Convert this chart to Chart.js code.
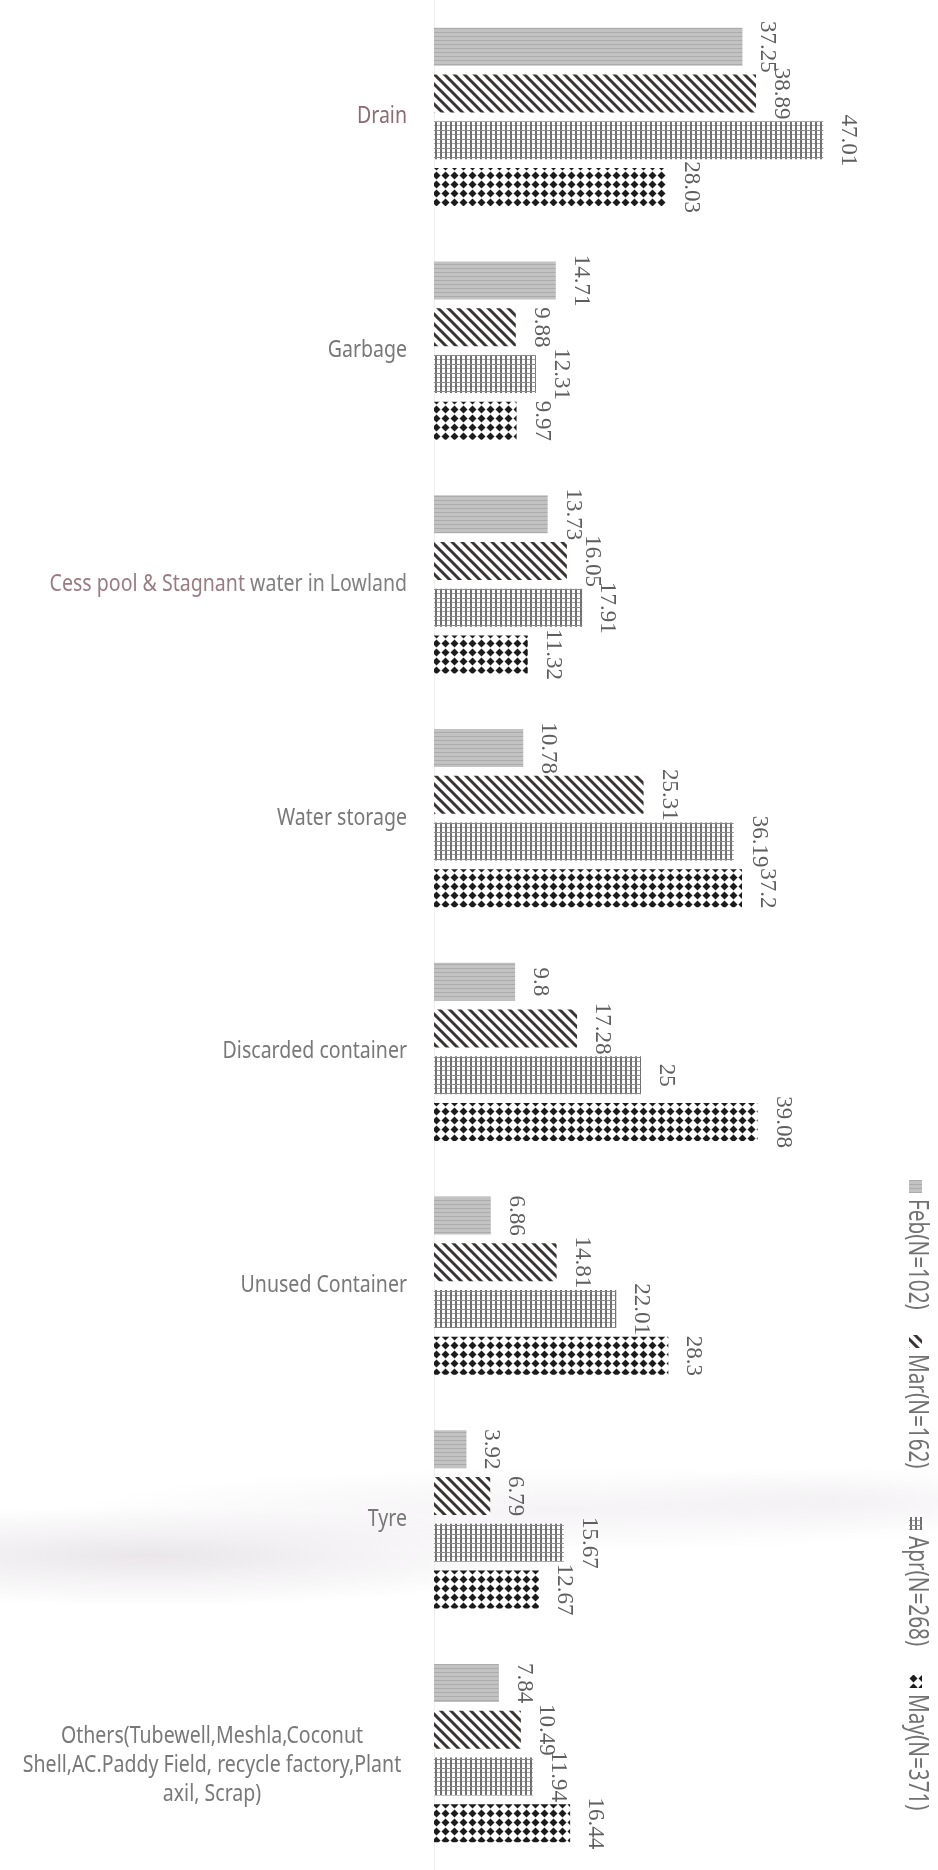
<!DOCTYPE html>
<html>
<head>
<meta charset="utf-8">
<script src="https://cdn.jsdelivr.net/npm/chart.js@4.4.1/dist/chart.umd.min.js"></script>
<style>
  html, body { margin:0; padding:0; }
  body {
    width:938px; height:1870px; overflow:hidden;
    /* faint scan smudge across the lower part of the page */
    background:
      radial-gradient(ellipse 420px 50px at 150px 1556px, rgba(200,190,200,.38), rgba(255,255,255,0)),
      radial-gradient(ellipse 480px 42px at 560px 1510px, rgba(222,214,222,.30), rgba(255,255,255,0)),
      radial-gradient(ellipse 240px 34px at 840px 1500px, rgba(225,218,225,.28), rgba(255,255,255,0)),
      #fff;
  }
  #wrap { position:relative; width:938px; height:1870px; }
</style>
</head>
<body>
<div id="wrap"><canvas id="c"></canvas></div>
<script>
// ---- data ----
const categories = [
  'Drain',
  'Garbage',
  'Cess pool & Stagnant water in Lowland',
  'Water storage',
  'Discarded container',
  'Unused Container',
  'Tyre',
  ['Others(Tubewell,Meshla,Coconut', 'Shell,AC.Paddy Field, recycle factory,Plant', 'axil, Scrap)']
];
const seriesNames = ['Feb(N=102)', 'Mar(N=162)', 'Apr(N=268)', 'May(N=371)'];
const febVals = [37.25, 14.71, 13.73, 10.78, 9.8, 6.86, 3.92, 7.84];
const marVals = [38.89, 9.88, 16.05, 25.31, 17.28, 14.81, 6.79, 10.49];
const aprVals = [47.01, 12.31, 17.91, 36.19, 25, 22.01, 15.67, 11.94];
const mayVals = [28.03, 9.97, 11.32, 37.2, 39.08, 28.3, 12.67, 16.44];

// ---- layout bits ----
const AXIS_LEFT  = 434;
const LEGEND_X   = 916;
const LEGEND_Y   = [1180, 1335, 1517, 1675];
const LABEL_FONT = '23px "Noto Sans"';
const VALUE_FONT = '23px "Liberation Serif"';
const SQUEEZE    = 0.85;   // narrow the sans text a bit, the original font is condensed

const cv  = document.getElementById('c');
const ctx = cv.getContext('2d');

function makePattern(w, h, draw) {
  const t = document.createElement('canvas');
  t.width = w; t.height = h;
  const g = t.getContext('2d');
  draw(g, w, h);
  return ctx.createPattern(t, 'repeat');
}

// Feb: light grey with fine horizontal lines
const patFeb = makePattern(4, 4, g => {
  g.fillStyle = '#c2c2c2'; g.fillRect(0, 0, 4, 4);
  g.fillStyle = '#ababab'; g.fillRect(0, 0, 4, 1);
});
// Mar: dark downward diagonal stripes
const patMar = makePattern(10, 10, g => {
  g.fillStyle = '#fff'; g.fillRect(0, 0, 10, 10);
  g.strokeStyle = '#3a3333'; g.lineWidth = 3;
  g.beginPath();
  g.moveTo(-2, -2); g.lineTo(12, 12);
  g.moveTo(-2, 8);  g.lineTo(2, 12);
  g.moveTo(8, -2);  g.lineTo(12, 2);
  g.stroke();
});
// Apr: grey brick / grid
const patApr = makePattern(5, 9, g => {
  g.fillStyle = '#fff'; g.fillRect(0, 0, 5, 9);
  g.fillStyle = '#707070'; g.fillRect(0, 0, 2, 9);
  g.fillStyle = '#8a8a8a'; g.fillRect(0, 4, 5, 1);
  g.fillStyle = '#a8a8a8'; g.fillRect(2, 8, 3, 1);
});
// May: black diamonds
const patMay = makePattern(9, 9, g => {
  g.fillStyle = '#fff'; g.fillRect(0, 0, 9, 9);
  g.fillStyle = '#1c1c1c';
  g.beginPath();
  g.moveTo(4.5, 0.5); g.lineTo(8.5, 4.5); g.lineTo(4.5, 8.5); g.lineTo(0.5, 4.5);
  g.closePath(); g.fill();
});

function squeezedText(c, txt, x, y) {
  c.save();
  c.translate(x, y);
  c.scale(SQUEEZE, 1);
  c.fillText(txt, 0, 0);
  c.restore();
}

// category labels drawn by hand: single lines right aligned, the long one centred
const catLabels = {
  id: 'catLabels',
  afterDraw(chart) {
    const y = chart.scales.y, c = chart.ctx;
    c.save();
    c.font = LABEL_FONT;
    c.textBaseline = 'middle';
    categories.forEach((lab, i) => {
      const py = y.getPixelForValue(i);
      const right = AXIS_LEFT - 27;
      if (Array.isArray(lab)) {
        c.fillStyle = '#787878';
        c.textAlign = 'center';
        const lh = 29, top = py - (lab.length - 1) * lh / 2 + 12;
        lab.forEach((ln, k) => squeezedText(c, ln, 212, top + k * lh));
      } else if (i === 2) {
        // first half of this one is printed in a reddish grey
        const a = 'Cess pool & Stagnant ', b = 'water in Lowland';
        c.textAlign = 'right';
        c.fillStyle = '#808080';
        squeezedText(c, b, right, py);
        c.fillStyle = '#9a7b82';
        squeezedText(c, a, right - c.measureText(b).width * SQUEEZE, py);
      } else {
        c.textAlign = 'right';
        c.fillStyle = i === 0 ? '#8c6c73' : '#787878';
        squeezedText(c, lab, right, py);
      }
    });
    c.restore();
  }
};

// value labels, rotated 90 degrees, just past the bar end
const valueLabels = {
  id: 'valueLabels',
  afterDatasetsDraw(chart) {
    const c = chart.ctx;
    c.save();
    c.font = VALUE_FONT;
    c.fillStyle = '#5e5e5e';
    c.textAlign = 'center';
    c.textBaseline = 'middle';
    chart.data.datasets.forEach((ds, i) => {
      chart.getDatasetMeta(i).data.forEach((bar, j) => {
        c.save();
        c.translate(bar.x + 25, bar.y);
        c.rotate(Math.PI / 2);
        c.fillText(String(ds.data[j]), 0, 0);
        c.restore();
      });
    });
    c.restore();
  }
};

// vertical legend down the right edge
const sideLegend = {
  id: 'sideLegend',
  afterDraw(chart) {
    const c = chart.ctx;
    c.save();
    c.font = '28px "Noto Sans"';
    c.textBaseline = 'middle';
    c.textAlign = 'left';
    chart.data.datasets.forEach((ds, i) => {
      const y0 = LEGEND_Y[i];
      c.fillStyle = ds.backgroundColor;
      c.fillRect(LEGEND_X - 7, y0, 13, 13);
      c.fillStyle = '#727272';
      c.save();
      c.translate(LEGEND_X + 1, y0 + 19);
      c.rotate(Math.PI / 2);
      c.scale(0.74, 1);
      c.fillText(ds.label, 0, 0);
      c.restore();
    });
    c.restore();
  }
};

const chart = new Chart(cv, {
  type: 'bar',
  data: {
    labels: categories,
    datasets: [
      { label: seriesNames[0], data: febVals, backgroundColor: patFeb },
      { label: seriesNames[1], data: marVals, backgroundColor: patMar },
      { label: seriesNames[2], data: aprVals, backgroundColor: patApr },
      { label: seriesNames[3], data: mayVals, backgroundColor: patMay }
    ]
  },
  options: {
    indexAxis: 'y',
    responsive: true,
    maintainAspectRatio: false,
    animation: false,
    categoryPercentage: 0.8,
    barPercentage: 0.81,
    layout: { padding: { top: -9, bottom: -2, left: 0, right: 90 } },
    plugins: { legend: { display: false }, tooltip: { enabled: false } },
    scales: {
      x: { display: false, min: 0, max: 50 },
      y: {
        ticks: { display: false },
        grid: { display: false },
        border: { color: '#efefef' },
        afterFit: s => { s.width = AXIS_LEFT; }
      }
    }
  },
  plugins: [valueLabels, catLabels, sideLegend]
});
</script>
</body>
</html>
